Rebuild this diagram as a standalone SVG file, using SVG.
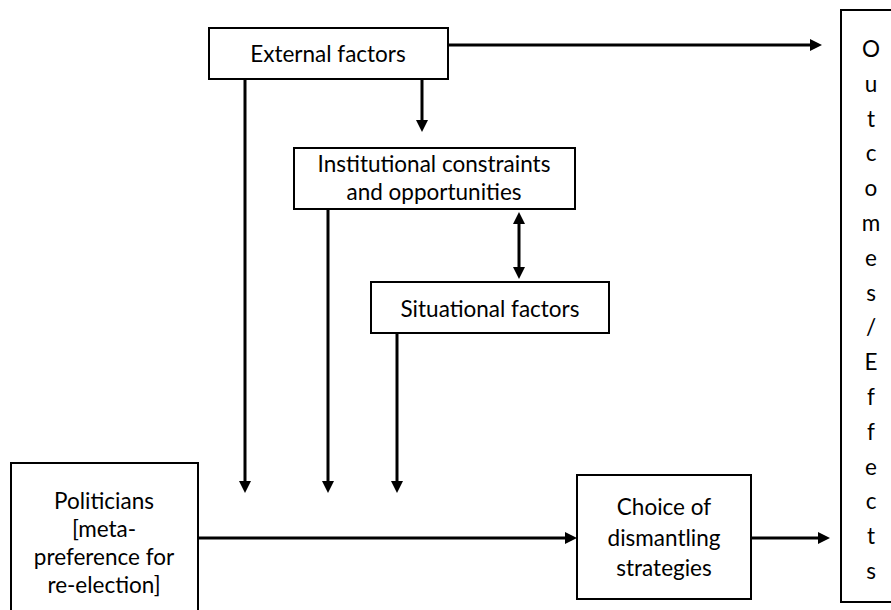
<svg xmlns="http://www.w3.org/2000/svg" width="891" height="610" viewBox="0 0 891 610">
<style>
.box{fill:#fff;stroke:#000;stroke-width:2}
.t{font-family:Lato,"Liberation Sans",sans-serif;font-size:22.5px;fill:#000;text-anchor:middle}
.c{fill:none;stroke:#000;stroke-width:3}
</style>
<defs>
<marker id="ah" viewBox="0 0 12 12" refX="2" refY="6" markerWidth="12" markerHeight="12" markerUnits="userSpaceOnUse" orient="auto-start-reverse">
<path d="M0,0 L12,6 L0,12 z" fill="#000"/>
</marker>
</defs>
<g id="connectors">
<path class="c" d="M448,45 H812" marker-end="url(#ah)"/>
<path class="c" d="M245,79 V483" marker-end="url(#ah)"/>
<path class="c" d="M422,79 V122" marker-end="url(#ah)"/>
<path class="c" d="M328,209 V483" marker-end="url(#ah)"/>
<path class="c" d="M519,222 V269" marker-start="url(#ah)" marker-end="url(#ah)"/>
<path class="c" d="M397,333 V483" marker-end="url(#ah)"/>
<path class="c" d="M198,538 H567" marker-end="url(#ah)"/>
<path class="c" d="M751,538 H820" marker-end="url(#ah)"/>
</g>
<g id="external">
<rect class="box" x="209" y="28" width="239" height="51"/>
<text class="t" x="328" y="62">External factors</text>
</g>
<g id="institutional">
<rect class="box" x="294" y="148" width="281" height="61"/>
<text class="t" x="434" y="172">Institutional constraints</text>
<text class="t" x="434" y="200">and opportunities</text>
</g>
<g id="situational">
<rect class="box" x="371" y="282" width="238" height="51"/>
<text class="t" x="490" y="317">Situational factors</text>
</g>
<g id="politicians">
<rect class="box" x="11" y="463" width="187" height="160"/>
<text class="t" x="104" y="509">Politicians</text>
<text class="t" x="104" y="537">[meta-</text>
<text class="t" x="104" y="565">preference for</text>
<text class="t" x="104" y="593">re-election]</text>
</g>
<g id="choice">
<rect class="box" x="577" y="475" width="174" height="124"/>
<text class="t" x="664" y="515">Choice of</text>
<text class="t" x="664" y="546">dismantling</text>
<text class="t" x="664" y="576">strategies</text>
</g>
<g id="outcomes">
<rect class="box" x="841" y="10" width="70" height="592"/>
<text class="t"><tspan x="871" y="57">O</tspan><tspan x="871" dy="34.8">u</tspan><tspan x="871" dy="34.8">t</tspan><tspan x="871" dy="34.8">c</tspan><tspan x="871" dy="34.8">o</tspan><tspan x="871" dy="34.8">m</tspan><tspan x="871" dy="34.8">e</tspan><tspan x="871" dy="34.8">s</tspan><tspan x="871" dy="34.8">/</tspan><tspan x="871" dy="34.8">E</tspan><tspan x="871" dy="34.8">f</tspan><tspan x="871" dy="34.8">f</tspan><tspan x="871" dy="34.8">e</tspan><tspan x="871" dy="34.8">c</tspan><tspan x="871" dy="34.8">t</tspan><tspan x="871" dy="34.8">s</tspan></text>
</g>
</svg>
